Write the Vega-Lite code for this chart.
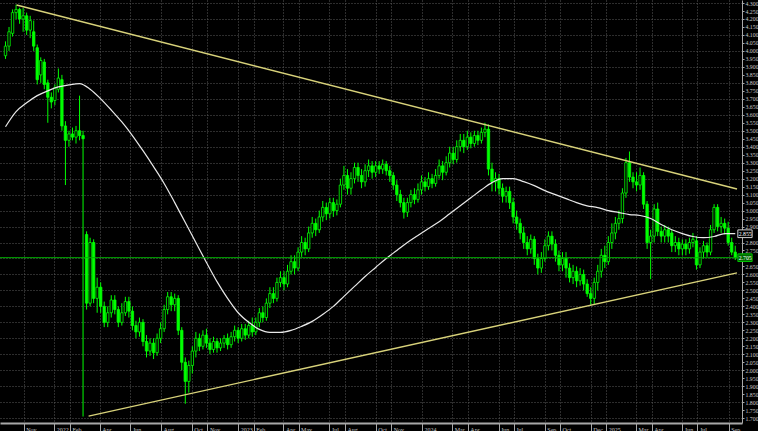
{
  "$schema": "https://vega.github.io/schema/vega-lite/v6.json",
  "width": 742,
  "height": 423,
  "padding": {"left": 0, "top": 0, "right": 16, "bottom": 8},
  "autosize": {"type": "none"},
  "background": "#000000",
  "config": {"view": {"stroke": null}},
  "datasets": {
    "bars": [
      {"d":"2021-09-26","o":3.97,"h":4.06,"l":3.95,"c":4.03},
      {"d":"2021-10-03","o":4.03,"h":4.15,"l":4.00,"c":4.12},
      {"d":"2021-10-10","o":4.11,"h":4.26,"l":4.09,"c":4.24},
      {"d":"2021-10-17","o":4.24,"h":4.29,"l":4.20,"c":4.26},
      {"d":"2021-10-24","o":4.26,"h":4.27,"l":4.17,"c":4.20},
      {"d":"2021-10-31","o":4.20,"h":4.27,"l":4.12,"c":4.22},
      {"d":"2021-11-07","o":4.22,"h":4.24,"l":4.10,"c":4.13},
      {"d":"2021-11-14","o":4.13,"h":4.22,"l":4.08,"c":4.19},
      {"d":"2021-11-21","o":4.12,"h":4.19,"l":4.00,"c":4.03},
      {"d":"2021-11-28","o":4.02,"h":4.04,"l":3.79,"c":3.82},
      {"d":"2021-12-05","o":3.85,"h":3.96,"l":3.80,"c":3.94},
      {"d":"2021-12-12","o":3.93,"h":3.95,"l":3.76,"c":3.79},
      {"d":"2021-12-19","o":3.80,"h":3.82,"l":3.55,"c":3.71},
      {"d":"2021-12-26","o":3.71,"h":3.74,"l":3.64,"c":3.68},
      {"d":"2022-01-02","o":3.69,"h":3.79,"l":3.66,"c":3.77},
      {"d":"2022-01-09","o":3.76,"h":3.89,"l":3.74,"c":3.83},
      {"d":"2022-01-16","o":3.82,"h":3.85,"l":3.50,"c":3.53},
      {"d":"2022-01-23","o":3.53,"h":3.56,"l":3.16,"c":3.44},
      {"d":"2022-01-30","o":3.44,"h":3.50,"l":3.40,"c":3.48},
      {"d":"2022-02-06","o":3.48,"h":3.52,"l":3.44,"c":3.46},
      {"d":"2022-02-13","o":3.46,"h":3.53,"l":3.42,"c":3.50},
      {"d":"2022-02-20","o":3.50,"h":3.72,"l":3.44,"c":3.47},
      {"d":"2022-02-27","o":3.47,"h":3.50,"l":1.71,"c":3.45},
      {"d":"2022-03-06","o":2.85,"h":2.87,"l":2.38,"c":2.42},
      {"d":"2022-03-13","o":2.42,"h":2.83,"l":2.40,"c":2.80},
      {"d":"2022-03-20","o":2.80,"h":2.82,"l":2.42,"c":2.45},
      {"d":"2022-03-27","o":2.45,"h":2.58,"l":2.36,"c":2.52},
      {"d":"2022-04-03","o":2.52,"h":2.55,"l":2.36,"c":2.40},
      {"d":"2022-04-10","o":2.40,"h":2.43,"l":2.27,"c":2.30},
      {"d":"2022-04-17","o":2.30,"h":2.40,"l":2.27,"c":2.36},
      {"d":"2022-04-24","o":2.36,"h":2.47,"l":2.33,"c":2.44},
      {"d":"2022-05-01","o":2.44,"h":2.47,"l":2.35,"c":2.38},
      {"d":"2022-05-08","o":2.38,"h":2.40,"l":2.27,"c":2.30},
      {"d":"2022-05-15","o":2.30,"h":2.42,"l":2.28,"c":2.36},
      {"d":"2022-05-22","o":2.36,"h":2.46,"l":2.34,"c":2.43},
      {"d":"2022-05-29","o":2.43,"h":2.46,"l":2.33,"c":2.37},
      {"d":"2022-06-05","o":2.37,"h":2.40,"l":2.25,"c":2.28},
      {"d":"2022-06-12","o":2.28,"h":2.31,"l":2.20,"c":2.24},
      {"d":"2022-06-19","o":2.24,"h":2.33,"l":2.21,"c":2.30},
      {"d":"2022-06-26","o":2.30,"h":2.32,"l":2.15,"c":2.18},
      {"d":"2022-07-03","o":2.18,"h":2.22,"l":2.08,"c":2.12},
      {"d":"2022-07-10","o":2.12,"h":2.20,"l":2.09,"c":2.17},
      {"d":"2022-07-17","o":2.17,"h":2.20,"l":2.07,"c":2.11},
      {"d":"2022-07-24","o":2.11,"h":2.23,"l":2.09,"c":2.20},
      {"d":"2022-07-31","o":2.20,"h":2.30,"l":2.17,"c":2.26},
      {"d":"2022-08-07","o":2.26,"h":2.41,"l":2.24,"c":2.38},
      {"d":"2022-08-14","o":2.38,"h":2.49,"l":2.35,"c":2.46},
      {"d":"2022-08-21","o":2.46,"h":2.49,"l":2.37,"c":2.41},
      {"d":"2022-08-28","o":2.41,"h":2.48,"l":2.37,"c":2.45},
      {"d":"2022-09-04","o":2.45,"h":2.47,"l":2.22,"c":2.25},
      {"d":"2022-09-11","o":2.25,"h":2.27,"l":2.00,"c":2.05},
      {"d":"2022-09-18","o":2.05,"h":2.08,"l":1.79,"c":1.93},
      {"d":"2022-09-25","o":1.93,"h":2.06,"l":1.86,"c":2.03},
      {"d":"2022-10-02","o":2.03,"h":2.15,"l":1.98,"c":2.12},
      {"d":"2022-10-09","o":2.12,"h":2.24,"l":2.08,"c":2.20},
      {"d":"2022-10-16","o":2.20,"h":2.23,"l":2.12,"c":2.15},
      {"d":"2022-10-23","o":2.15,"h":2.25,"l":2.13,"c":2.22},
      {"d":"2022-10-30","o":2.22,"h":2.26,"l":2.14,"c":2.17},
      {"d":"2022-11-06","o":2.17,"h":2.20,"l":2.10,"c":2.13},
      {"d":"2022-11-13","o":2.13,"h":2.21,"l":2.11,"c":2.18},
      {"d":"2022-11-20","o":2.18,"h":2.20,"l":2.11,"c":2.14},
      {"d":"2022-11-27","o":2.14,"h":2.20,"l":2.12,"c":2.17},
      {"d":"2022-12-04","o":2.17,"h":2.22,"l":2.14,"c":2.20},
      {"d":"2022-12-11","o":2.20,"h":2.23,"l":2.13,"c":2.16},
      {"d":"2022-12-18","o":2.16,"h":2.24,"l":2.14,"c":2.21},
      {"d":"2022-12-25","o":2.21,"h":2.28,"l":2.18,"c":2.25},
      {"d":"2023-01-01","o":2.25,"h":2.27,"l":2.17,"c":2.20},
      {"d":"2023-01-08","o":2.20,"h":2.29,"l":2.18,"c":2.26},
      {"d":"2023-01-15","o":2.26,"h":2.29,"l":2.19,"c":2.22},
      {"d":"2023-01-22","o":2.22,"h":2.31,"l":2.20,"c":2.28},
      {"d":"2023-01-29","o":2.28,"h":2.33,"l":2.21,"c":2.24},
      {"d":"2023-02-05","o":2.24,"h":2.33,"l":2.22,"c":2.30},
      {"d":"2023-02-12","o":2.30,"h":2.39,"l":2.27,"c":2.36},
      {"d":"2023-02-19","o":2.36,"h":2.40,"l":2.30,"c":2.33},
      {"d":"2023-02-26","o":2.33,"h":2.45,"l":2.31,"c":2.42},
      {"d":"2023-03-05","o":2.42,"h":2.52,"l":2.39,"c":2.48},
      {"d":"2023-03-12","o":2.48,"h":2.52,"l":2.42,"c":2.45},
      {"d":"2023-03-19","o":2.45,"h":2.58,"l":2.43,"c":2.55},
      {"d":"2023-03-26","o":2.55,"h":2.62,"l":2.52,"c":2.58},
      {"d":"2023-04-02","o":2.58,"h":2.62,"l":2.50,"c":2.54},
      {"d":"2023-04-09","o":2.54,"h":2.66,"l":2.52,"c":2.62},
      {"d":"2023-04-16","o":2.62,"h":2.72,"l":2.60,"c":2.68},
      {"d":"2023-04-23","o":2.68,"h":2.72,"l":2.60,"c":2.64},
      {"d":"2023-04-30","o":2.64,"h":2.77,"l":2.62,"c":2.74},
      {"d":"2023-05-07","o":2.74,"h":2.84,"l":2.71,"c":2.80},
      {"d":"2023-05-14","o":2.80,"h":2.83,"l":2.72,"c":2.76},
      {"d":"2023-05-21","o":2.76,"h":2.90,"l":2.74,"c":2.86},
      {"d":"2023-05-28","o":2.86,"h":2.96,"l":2.83,"c":2.92},
      {"d":"2023-06-04","o":2.92,"h":2.95,"l":2.84,"c":2.88},
      {"d":"2023-06-11","o":2.88,"h":3.00,"l":2.86,"c":2.96},
      {"d":"2023-06-18","o":2.96,"h":3.06,"l":2.93,"c":3.02},
      {"d":"2023-06-25","o":3.02,"h":3.05,"l":2.94,"c":2.98},
      {"d":"2023-07-02","o":2.98,"h":3.08,"l":2.95,"c":3.05},
      {"d":"2023-07-09","o":3.05,"h":3.08,"l":2.96,"c":3.00},
      {"d":"2023-07-16","o":3.00,"h":3.07,"l":2.97,"c":3.04},
      {"d":"2023-07-23","o":3.04,"h":3.20,"l":3.02,"c":3.16},
      {"d":"2023-07-30","o":3.16,"h":3.28,"l":3.13,"c":3.22},
      {"d":"2023-08-06","o":3.22,"h":3.26,"l":3.10,"c":3.14},
      {"d":"2023-08-13","o":3.14,"h":3.24,"l":3.10,"c":3.20},
      {"d":"2023-08-20","o":3.20,"h":3.30,"l":3.17,"c":3.27},
      {"d":"2023-08-27","o":3.27,"h":3.30,"l":3.18,"c":3.22},
      {"d":"2023-09-03","o":3.22,"h":3.26,"l":3.14,"c":3.18},
      {"d":"2023-09-10","o":3.18,"h":3.29,"l":3.15,"c":3.25},
      {"d":"2023-09-17","o":3.25,"h":3.32,"l":3.21,"c":3.28},
      {"d":"2023-09-24","o":3.28,"h":3.31,"l":3.20,"c":3.24},
      {"d":"2023-10-01","o":3.24,"h":3.31,"l":3.21,"c":3.28},
      {"d":"2023-10-08","o":3.28,"h":3.31,"l":3.23,"c":3.26},
      {"d":"2023-10-15","o":3.26,"h":3.32,"l":3.23,"c":3.29},
      {"d":"2023-10-22","o":3.29,"h":3.31,"l":3.22,"c":3.25},
      {"d":"2023-10-29","o":3.25,"h":3.28,"l":3.18,"c":3.22},
      {"d":"2023-11-05","o":3.22,"h":3.24,"l":3.13,"c":3.16},
      {"d":"2023-11-12","o":3.16,"h":3.19,"l":3.06,"c":3.10},
      {"d":"2023-11-19","o":3.10,"h":3.13,"l":3.02,"c":3.05},
      {"d":"2023-11-26","o":3.05,"h":3.08,"l":2.95,"c":2.99},
      {"d":"2023-12-03","o":2.99,"h":3.08,"l":2.96,"c":3.05},
      {"d":"2023-12-10","o":3.05,"h":3.13,"l":3.02,"c":3.10},
      {"d":"2023-12-17","o":3.10,"h":3.14,"l":3.04,"c":3.07},
      {"d":"2023-12-24","o":3.07,"h":3.17,"l":3.05,"c":3.13},
      {"d":"2023-12-31","o":3.13,"h":3.22,"l":3.10,"c":3.18},
      {"d":"2024-01-07","o":3.18,"h":3.21,"l":3.12,"c":3.15},
      {"d":"2024-01-14","o":3.15,"h":3.24,"l":3.13,"c":3.20},
      {"d":"2024-01-21","o":3.20,"h":3.23,"l":3.14,"c":3.17},
      {"d":"2024-01-28","o":3.17,"h":3.26,"l":3.15,"c":3.22},
      {"d":"2024-02-04","o":3.22,"h":3.32,"l":3.20,"c":3.28},
      {"d":"2024-02-11","o":3.28,"h":3.31,"l":3.19,"c":3.24},
      {"d":"2024-02-18","o":3.24,"h":3.34,"l":3.22,"c":3.30},
      {"d":"2024-02-25","o":3.30,"h":3.40,"l":3.27,"c":3.36},
      {"d":"2024-03-03","o":3.36,"h":3.40,"l":3.29,"c":3.32},
      {"d":"2024-03-10","o":3.32,"h":3.44,"l":3.30,"c":3.40},
      {"d":"2024-03-17","o":3.40,"h":3.48,"l":3.37,"c":3.44},
      {"d":"2024-03-24","o":3.44,"h":3.48,"l":3.36,"c":3.40},
      {"d":"2024-03-31","o":3.40,"h":3.50,"l":3.38,"c":3.46},
      {"d":"2024-04-07","o":3.46,"h":3.49,"l":3.39,"c":3.42},
      {"d":"2024-04-14","o":3.42,"h":3.50,"l":3.40,"c":3.47},
      {"d":"2024-04-21","o":3.47,"h":3.50,"l":3.41,"c":3.44},
      {"d":"2024-04-28","o":3.44,"h":3.52,"l":3.42,"c":3.49},
      {"d":"2024-05-05","o":3.49,"h":3.55,"l":3.46,"c":3.51},
      {"d":"2024-05-12","o":3.51,"h":3.54,"l":3.22,"c":3.26},
      {"d":"2024-05-19","o":3.26,"h":3.30,"l":3.12,"c":3.18},
      {"d":"2024-05-26","o":3.18,"h":3.24,"l":3.12,"c":3.20},
      {"d":"2024-06-02","o":3.20,"h":3.23,"l":3.10,"c":3.14},
      {"d":"2024-06-09","o":3.14,"h":3.17,"l":3.05,"c":3.09},
      {"d":"2024-06-16","o":3.09,"h":3.15,"l":3.05,"c":3.12},
      {"d":"2024-06-23","o":3.12,"h":3.15,"l":3.01,"c":3.05},
      {"d":"2024-06-30","o":3.05,"h":3.08,"l":2.92,"c":2.96},
      {"d":"2024-07-07","o":2.96,"h":3.00,"l":2.88,"c":2.92},
      {"d":"2024-07-14","o":2.92,"h":2.95,"l":2.82,"c":2.86},
      {"d":"2024-07-21","o":2.86,"h":2.90,"l":2.76,"c":2.80},
      {"d":"2024-07-28","o":2.80,"h":2.84,"l":2.72,"c":2.76},
      {"d":"2024-08-04","o":2.76,"h":2.85,"l":2.73,"c":2.82},
      {"d":"2024-08-11","o":2.82,"h":2.84,"l":2.66,"c":2.70},
      {"d":"2024-08-18","o":2.70,"h":2.73,"l":2.60,"c":2.64},
      {"d":"2024-08-25","o":2.64,"h":2.74,"l":2.61,"c":2.70},
      {"d":"2024-09-01","o":2.70,"h":2.82,"l":2.68,"c":2.78},
      {"d":"2024-09-08","o":2.78,"h":2.87,"l":2.75,"c":2.84},
      {"d":"2024-09-15","o":2.84,"h":2.87,"l":2.75,"c":2.79},
      {"d":"2024-09-22","o":2.79,"h":2.82,"l":2.68,"c":2.72},
      {"d":"2024-09-29","o":2.72,"h":2.75,"l":2.62,"c":2.66},
      {"d":"2024-10-06","o":2.66,"h":2.74,"l":2.62,"c":2.70},
      {"d":"2024-10-13","o":2.70,"h":2.74,"l":2.58,"c":2.64},
      {"d":"2024-10-20","o":2.64,"h":2.67,"l":2.55,"c":2.58},
      {"d":"2024-10-27","o":2.58,"h":2.66,"l":2.54,"c":2.62},
      {"d":"2024-11-03","o":2.62,"h":2.65,"l":2.52,"c":2.56},
      {"d":"2024-11-10","o":2.56,"h":2.64,"l":2.53,"c":2.60},
      {"d":"2024-11-17","o":2.60,"h":2.63,"l":2.50,"c":2.54},
      {"d":"2024-11-24","o":2.54,"h":2.57,"l":2.46,"c":2.48},
      {"d":"2024-12-01","o":2.48,"h":2.52,"l":2.41,"c":2.45},
      {"d":"2024-12-08","o":2.45,"h":2.58,"l":2.41,"c":2.55},
      {"d":"2024-12-15","o":2.55,"h":2.66,"l":2.50,"c":2.62},
      {"d":"2024-12-22","o":2.62,"h":2.76,"l":2.58,"c":2.72},
      {"d":"2024-12-29","o":2.72,"h":2.78,"l":2.64,"c":2.68},
      {"d":"2025-01-05","o":2.68,"h":2.84,"l":2.66,"c":2.80},
      {"d":"2025-01-12","o":2.80,"h":2.92,"l":2.76,"c":2.86},
      {"d":"2025-01-19","o":2.86,"h":2.96,"l":2.82,"c":2.92},
      {"d":"2025-01-26","o":2.92,"h":3.00,"l":2.88,"c":2.95},
      {"d":"2025-02-02","o":2.95,"h":3.14,"l":2.92,"c":3.11},
      {"d":"2025-02-09","o":3.11,"h":3.33,"l":3.08,"c":3.30},
      {"d":"2025-02-16","o":3.30,"h":3.37,"l":3.18,"c":3.21},
      {"d":"2025-02-23","o":3.21,"h":3.24,"l":3.14,"c":3.18},
      {"d":"2025-03-02","o":3.18,"h":3.24,"l":3.12,"c":3.16},
      {"d":"2025-03-09","o":3.16,"h":3.27,"l":3.13,"c":3.22},
      {"d":"2025-03-16","o":3.22,"h":3.24,"l":3.01,"c":3.04},
      {"d":"2025-03-23","o":3.04,"h":3.06,"l":2.76,"c":2.80},
      {"d":"2025-03-30","o":2.80,"h":2.88,"l":2.57,"c":2.84},
      {"d":"2025-04-06","o":2.84,"h":3.04,"l":2.80,"c":3.01},
      {"d":"2025-04-13","o":3.01,"h":3.05,"l":2.84,"c":2.87},
      {"d":"2025-04-20","o":2.87,"h":2.90,"l":2.80,"c":2.84},
      {"d":"2025-04-27","o":2.84,"h":2.91,"l":2.80,"c":2.88},
      {"d":"2025-05-04","o":2.88,"h":2.90,"l":2.80,"c":2.84},
      {"d":"2025-05-11","o":2.86,"h":2.88,"l":2.74,"c":2.78},
      {"d":"2025-05-18","o":2.78,"h":2.84,"l":2.74,"c":2.80},
      {"d":"2025-05-25","o":2.80,"h":2.83,"l":2.72,"c":2.76},
      {"d":"2025-06-01","o":2.76,"h":2.82,"l":2.72,"c":2.79},
      {"d":"2025-06-08","o":2.79,"h":2.82,"l":2.72,"c":2.76},
      {"d":"2025-06-15","o":2.76,"h":2.83,"l":2.73,"c":2.80},
      {"d":"2025-06-22","o":2.80,"h":2.86,"l":2.77,"c":2.82},
      {"d":"2025-06-29","o":2.81,"h":2.84,"l":2.63,"c":2.66},
      {"d":"2025-07-06","o":2.66,"h":2.77,"l":2.64,"c":2.74},
      {"d":"2025-07-13","o":2.74,"h":2.81,"l":2.70,"c":2.78},
      {"d":"2025-07-20","o":2.78,"h":2.80,"l":2.71,"c":2.74},
      {"d":"2025-07-27","o":2.74,"h":2.91,"l":2.72,"c":2.88},
      {"d":"2025-08-03","o":2.88,"h":3.04,"l":2.86,"c":3.02},
      {"d":"2025-08-10","o":3.02,"h":3.04,"l":2.87,"c":2.90},
      {"d":"2025-08-17","o":2.90,"h":2.96,"l":2.86,"c":2.92},
      {"d":"2025-08-24","o":2.92,"h":2.95,"l":2.85,"c":2.89},
      {"d":"2025-08-31","o":2.89,"h":2.93,"l":2.78,"c":2.80},
      {"d":"2025-09-07","o":2.80,"h":2.83,"l":2.72,"c":2.74},
      {"d":"2025-09-14","o":2.74,"h":2.78,"l":2.69,"c":2.705}
    ],
    "ma": [
      {"d":"2021-09-26","v":3.525},{"d":"2021-10-17","v":3.62},{"d":"2021-11-07","v":3.675},
      {"d":"2021-11-28","v":3.72},{"d":"2021-12-19","v":3.75},{"d":"2022-01-09","v":3.775},
      {"d":"2022-01-30","v":3.7875},{"d":"2022-02-20","v":3.795},{"d":"2022-03-13","v":3.76},
      {"d":"2022-04-03","v":3.70},{"d":"2022-04-24","v":3.63},{"d":"2022-05-15","v":3.555},
      {"d":"2022-06-05","v":3.47},{"d":"2022-06-26","v":3.375},{"d":"2022-07-17","v":3.275},
      {"d":"2022-08-07","v":3.17},{"d":"2022-08-28","v":3.05},{"d":"2022-09-18","v":2.925},
      {"d":"2022-10-09","v":2.80},{"d":"2022-10-30","v":2.675},{"d":"2022-11-20","v":2.555},
      {"d":"2022-12-11","v":2.45},{"d":"2023-01-01","v":2.36},{"d":"2023-01-22","v":2.30},
      {"d":"2023-02-12","v":2.256},{"d":"2023-03-05","v":2.2375},{"d":"2023-03-26","v":2.2375},
      {"d":"2023-04-16","v":2.25},{"d":"2023-05-07","v":2.275},{"d":"2023-05-28","v":2.306},
      {"d":"2023-06-18","v":2.35},{"d":"2023-07-09","v":2.40},{"d":"2023-07-30","v":2.4625},
      {"d":"2023-08-20","v":2.525},{"d":"2023-09-10","v":2.5875},{"d":"2023-10-01","v":2.644},
      {"d":"2023-10-22","v":2.70},{"d":"2023-11-12","v":2.75},{"d":"2023-12-03","v":2.80},
      {"d":"2023-12-24","v":2.844},{"d":"2024-01-14","v":2.8875},{"d":"2024-02-04","v":2.93},
      {"d":"2024-02-25","v":2.98},{"d":"2024-03-17","v":3.03},{"d":"2024-04-07","v":3.08},
      {"d":"2024-04-28","v":3.13},{"d":"2024-05-19","v":3.175},{"d":"2024-06-09","v":3.20},
      {"d":"2024-06-30","v":3.20},{"d":"2024-07-21","v":3.181},{"d":"2024-08-11","v":3.156},
      {"d":"2024-09-01","v":3.125},{"d":"2024-09-22","v":3.10},{"d":"2024-10-13","v":3.075},
      {"d":"2024-11-03","v":3.05},{"d":"2024-11-24","v":3.03},{"d":"2024-12-15","v":3.019},
      {"d":"2025-01-05","v":3.00},{"d":"2025-01-26","v":2.9875},{"d":"2025-02-16","v":2.975},
      {"d":"2025-03-09","v":2.969},{"d":"2025-03-30","v":2.95},{"d":"2025-04-20","v":2.9125},
      {"d":"2025-05-11","v":2.88},{"d":"2025-06-01","v":2.856},{"d":"2025-06-22","v":2.8375},
      {"d":"2025-07-13","v":2.83},{"d":"2025-08-03","v":2.8375},{"d":"2025-08-24","v":2.856},
      {"d":"2025-09-14","v":2.856}
    ],
    "trend": [
      {"line":"upper","d":"2021-10-18","v":4.2875},
      {"line":"upper","d":"2025-09-17T12:00:00Z","v":3.135},
      {"line":"lower","d":"2022-03-10","v":1.7125},
      {"line":"lower","d":"2025-09-17T12:00:00Z","v":2.61}
    ],
    "bid": [{"p":2.705}],
    "tags": [
      {"k":"ma","p":2.855,"t":"2.855"},
      {"k":"bid","p":2.705,"t":"2.705"}
    ]
  },
  "resolve": {"axis": {"x": "independent", "y": "independent"}},
  "layer": [
    {
      "data": {"name": "bars"},
      "mark": {"type": "rule", "color": "#00ff00", "strokeWidth": 1},
      "encoding": {
        "x": {
          "field": "d", "type": "temporal",
          "scale": {"type": "utc", "domain": [{"year": 2021, "month": 9, "date": 25, "utc": true}, {"year": 2025, "month": 9, "date": 17, "hours": 12, "utc": true}]},
          "axis": {
            "title": null,
            "values": [
              {"year":2021,"month":11,"date":1,"utc":true},
              {"year":2022,"month":1,"date":1,"utc":true},
              {"year":2022,"month":2,"date":1,"utc":true},
              {"year":2022,"month":4,"date":1,"utc":true},
              {"year":2022,"month":6,"date":1,"utc":true},
              {"year":2022,"month":8,"date":1,"utc":true},
              {"year":2022,"month":10,"date":1,"utc":true},
              {"year":2022,"month":11,"date":1,"utc":true},
              {"year":2023,"month":1,"date":1,"utc":true},
              {"year":2023,"month":2,"date":1,"utc":true},
              {"year":2023,"month":4,"date":1,"utc":true},
              {"year":2023,"month":5,"date":1,"utc":true},
              {"year":2023,"month":7,"date":1,"utc":true},
              {"year":2023,"month":8,"date":1,"utc":true},
              {"year":2023,"month":10,"date":1,"utc":true},
              {"year":2023,"month":11,"date":1,"utc":true},
              {"year":2024,"month":1,"date":1,"utc":true},
              {"year":2024,"month":3,"date":1,"utc":true},
              {"year":2024,"month":4,"date":1,"utc":true},
              {"year":2024,"month":6,"date":1,"utc":true},
              {"year":2024,"month":7,"date":1,"utc":true},
              {"year":2024,"month":9,"date":1,"utc":true},
              {"year":2024,"month":10,"date":1,"utc":true},
              {"year":2024,"month":12,"date":1,"utc":true},
              {"year":2025,"month":1,"date":1,"utc":true},
              {"year":2025,"month":3,"date":1,"utc":true},
              {"year":2025,"month":4,"date":1,"utc":true},
              {"year":2025,"month":6,"date":1,"utc":true},
              {"year":2025,"month":7,"date":1,"utc":true},
              {"year":2025,"month":9,"date":1,"utc":true}
            ],
            "labelExpr": "utcmonth(datum.value) == 0 ? utcFormat(datum.value, '%Y') : utcFormat(datum.value, '%b')",
            "grid": true, "gridColor": "#5a5a5a", "gridDash": [1, 2], "gridWidth": 1,
            "domain": true, "domainColor": "#a8a8a8", "domainWidth": 2,
            "ticks": true, "tickSize": 9, "tickColor": "#a8a8a8", "tickWidth": 1,
            "labelAlign": "left", "labelBaseline": "top", "labelOffset": 2, "labelPadding": -6,
            "labelFont": "Liberation Sans Narrow", "labelFontSize": 6, "labelColor": "#c8c8c8",
            "labelOverlap": false, "labelBound": false, "labelFlush": false
          }
        },
        "y": {
          "field": "l", "type": "quantitative",
          "scale": {"domain": [1.6695, 4.319], "nice": false, "zero": false},
          "axis": {
            "orient": "left", "title": null,
            "values": [1.7,1.8,1.9,2.0,2.1,2.2,2.3,2.4,2.5,2.6,2.7,2.8,2.9,3.0,3.1,3.2,3.3,3.4,3.5,3.6,3.7,3.8,3.9,4.0,4.1,4.2,4.3],
            "grid": true, "gridColor": "#5a5a5a", "gridDash": [1, 2], "gridWidth": 1,
            "labels": false, "ticks": false, "domain": false
          }
        },
        "y2": {"field": "h"}
      }
    },
    {
      "data": {"name": "bars"},
      "mark": {"type": "bar", "width": 2.4, "stroke": "#00ff00", "strokeWidth": 0.8},
      "encoding": {
        "x": {"field": "d", "type": "temporal", "axis": null},
        "y": {
          "field": "o", "type": "quantitative",
          "axis": {
            "orient": "right", "title": null,
            "values": [1.7,1.75,1.8,1.85,1.9,1.95,2.0,2.05,2.1,2.15,2.2,2.25,2.3,2.35,2.4,2.45,2.5,2.55,2.6,2.65,2.75,2.8,2.9,2.95,3.0,3.05,3.1,3.15,3.2,3.25,3.3,3.35,3.4,3.45,3.5,3.55,3.6,3.65,3.7,3.75,3.8,3.85,3.9,3.95,4.0,4.05,4.1,4.15,4.2,4.25,4.3],
            "format": ".3f", "grid": false,
            "domain": true, "domainColor": "#a8a8a8", "domainWidth": 1,
            "ticks": true, "tickSize": 2, "tickColor": "#a8a8a8",
            "labelPadding": 1, "labelFont": "Liberation Sans Narrow", "labelFontSize": 5.8,
            "labelColor": "#c8c8c8", "labelOverlap": false, "labelBound": false, "labelFlush": false
          }
        },
        "y2": {"field": "c"},
        "fill": {"condition": {"test": "datum.o > datum.c", "value": "#00ff00"}, "value": "#000000"}
      }
    },
    {
      "data": {"name": "ma"},
      "mark": {"type": "line", "color": "#e8e8e8", "strokeWidth": 1.2, "interpolate": "monotone"},
      "encoding": {
        "x": {"field": "d", "type": "temporal", "axis": null},
        "y": {"field": "v", "type": "quantitative", "axis": null}
      }
    },
    {
      "data": {"name": "trend"},
      "mark": {"type": "line", "color": "#d8d27a", "strokeWidth": 1.4},
      "encoding": {
        "x": {"field": "d", "type": "temporal", "axis": null},
        "y": {"field": "v", "type": "quantitative", "axis": null},
        "detail": {"field": "line"}
      }
    },
    {
      "data": {"name": "bid"},
      "mark": {"type": "rule", "color": "#00b000", "strokeWidth": 1},
      "encoding": {
        "y": {"field": "p", "type": "quantitative", "axis": null}
      }
    },
    {
      "data": {"name": "tags"},
      "mark": {"type": "point", "shape": "M0.12,-0.55H2.16V0.55H0.12Z", "size": 196, "filled": true, "strokeWidth": 1, "opacity": 1},
      "encoding": {
        "x": {"datum": {"year": 2025, "month": 9, "date": 17, "hours": 12, "utc": true}, "type": "temporal", "axis": null},
        "y": {"field": "p", "type": "quantitative", "axis": null},
        "fill": {"condition": {"test": "datum.k == 'bid'", "value": "#006a00"}, "value": "#000000"},
        "stroke": {"condition": {"test": "datum.k == 'bid'", "value": "#00c000"}, "value": "#d0d0d0"}
      }
    },
    {
      "data": {"name": "tags"},
      "mark": {"type": "text", "dx": 8.2, "align": "center", "baseline": "middle", "font": "Liberation Sans Narrow", "fontSize": 5.8, "color": "#ffffff"},
      "encoding": {
        "x": {"datum": {"year": 2025, "month": 9, "date": 17, "hours": 12, "utc": true}, "type": "temporal", "axis": null},
        "y": {"field": "p", "type": "quantitative", "axis": null},
        "text": {"field": "t"}
      }
    }
  ]
}
